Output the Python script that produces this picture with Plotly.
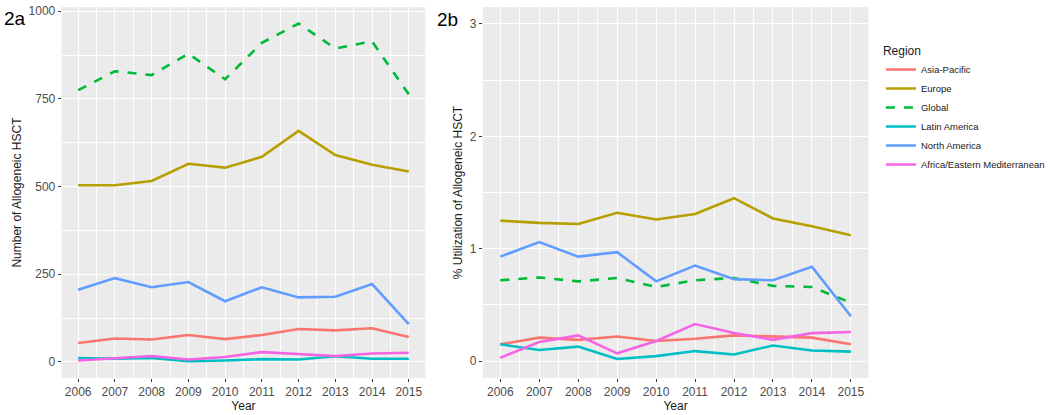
import plotly.graph_objects as go

years = list(range(2006, 2016))
regions = ["Asia-Pacific", "Europe", "Global", "Latin America", "North America",
           "Africa/Eastern Mediterranean"]
colors = ["#F8766D", "#B79F00", "#00BA38", "#00BFC4", "#619CFF", "#F564E3"]

# 2a: number of allogeneic HSCT
counts = {
    "Asia-Pacific": [54, 67, 64, 77, 65, 77, 94, 90, 96, 71],
    "Europe": [504, 504, 516, 565, 554, 585, 659, 590, 562, 543],
    "Global": [775, 829, 818, 879, 806, 910, 965, 894, 914, 763],
    "Latin America": [11, 9, 11, 2, 4, 8, 7, 16, 9, 9],
    "North America": [206, 239, 213, 228, 173, 213, 184, 186, 222, 108],
    "Africa/Eastern Mediterranean": [4, 11, 17, 7, 14, 28, 23, 17, 24, 26],
}

# 2b: % utilization of allogeneic HSCT
utilization = {
    "Asia-Pacific": [0.15, 0.21, 0.19, 0.22, 0.18, 0.20, 0.23, 0.22, 0.21, 0.15],
    "Europe": [1.25, 1.23, 1.22, 1.32, 1.26, 1.31, 1.45, 1.27, 1.20, 1.12],
    "Global": [0.72, 0.745, 0.71, 0.74, 0.66, 0.72, 0.74, 0.67, 0.66, 0.52],
    "Latin America": [0.15, 0.10, 0.13, 0.02, 0.045, 0.09, 0.06, 0.14, 0.095, 0.085],
    "North America": [0.93, 1.06, 0.93, 0.97, 0.71, 0.85, 0.73, 0.72, 0.84, 0.40],
    "Africa/Eastern Mediterranean": [0.03, 0.17, 0.23, 0.07, 0.18, 0.33, 0.25, 0.19, 0.25, 0.26],
}

fig = go.Figure()

for name, col in zip(regions, colors):
    dash = "dash" if name == "Global" else "solid"
    fig.add_trace(go.Scatter(x=years, y=counts[name], mode="lines", name=name,
                             line=dict(color=col, width=2.6, dash=dash),
                             xaxis="x", yaxis="y", legendgroup=name))
    fig.add_trace(go.Scatter(x=years, y=utilization[name], mode="lines", name=name,
                             line=dict(color=col, width=2.6, dash=dash),
                             xaxis="x2", yaxis="y2", legendgroup=name, showlegend=False))

grid = dict(showgrid=True, gridcolor="white", gridwidth=1.2, zeroline=False,
            ticks="outside", ticklen=3, tickcolor="#333333", automargin=False,
            tickfont=dict(size=12, color="#4D4D4D"), showline=False)
xminor = dict(dtick=0.5, showgrid=True, gridcolor="white", gridwidth=0.5, ticks="")

fig.update_layout(
    width=1050, height=415,
    margin=dict(l=0, r=0, t=0, b=0),
    paper_bgcolor="white",
    plot_bgcolor="#EBEBEB",
    font=dict(family="Liberation Sans, Arial", color="#1A1A1A"),
    xaxis=dict(domain=[0.059, 0.407], range=[2005.55, 2015.45], tickmode="array",
               tickvals=years, minor=xminor, anchor="y",
               title=dict(text="Year", font=dict(size=12), standoff=2), **grid),
    yaxis=dict(domain=[0.089, 0.983], range=[-46, 1012], tickvals=[0, 250, 500, 750, 1000],
               minor=dict(dtick=125, showgrid=True, gridcolor="white", gridwidth=0.5, ticks=""),
               anchor="x",
               title=dict(text="Number of Allogeneic HSCT", font=dict(size=12), standoff=4),
               **grid),
    xaxis2=dict(domain=[0.462, 0.831], range=[2005.55, 2015.45], tickmode="array",
                tickvals=years, minor=xminor, anchor="y2",
                title=dict(text="Year", font=dict(size=12), standoff=2), **grid),
    yaxis2=dict(domain=[0.089, 0.983], range=[-0.15, 3.15], tickvals=[0, 1, 2, 3],
                minor=dict(dtick=0.5, showgrid=True, gridcolor="white", gridwidth=0.5, ticks=""),
                anchor="x2",
                title=dict(text="% Utilization of Allogeneic HSCT", font=dict(size=12), standoff=4),
                **grid),
    legend=dict(x=0.843, y=0.905, xanchor="left", yanchor="top",
                title=dict(text="Region", font=dict(size=12)),
                font=dict(size=9.5), bgcolor="white", tracegroupgap=0),
    annotations=[
        dict(text="2a", x=0.002, y=0.955, xref="paper", yref="paper", xanchor="left",
             yanchor="middle", showarrow=False, font=dict(size=19, color="black")),
        dict(text="2b", x=0.416, y=0.952, xref="paper", yref="paper", xanchor="left",
             yanchor="middle", showarrow=False, font=dict(size=19, color="black")),
    ],
)

# drop the browser's default body margin so the figure sits at the page origin
fig.write_html("out.html", config={"displayModeBar": False},
               post_script="document.body.style.margin='0';")
